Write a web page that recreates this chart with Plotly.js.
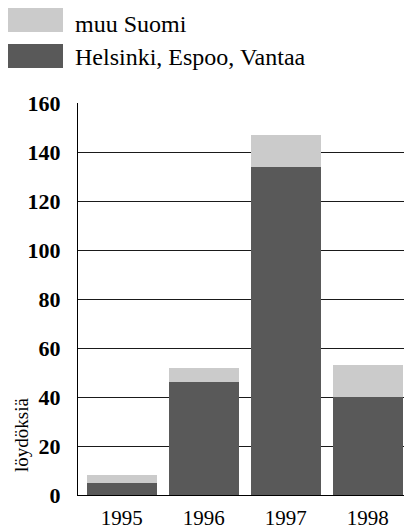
<!DOCTYPE html>
<html>
<head>
<meta charset="utf-8">
<script src="https://cdn.plot.ly/plotly-3.0.1.min.js"></script>
<style>html,body{margin:0;padding:0;background:#fff;}#chart{width:404px;height:530px;}</style>
</head>
<body>
<div id="chart"></div>
<script>
var years = ['1995', '1996', '1997', '1998'];
var helsinkiEspooVantaa = [5, 46, 134, 40];
var muuSuomi = [3, 6, 13, 13];
var yTicks = [0, 20, 40, 60, 80, 100, 120, 140, 160];
var seriesNames = ['Helsinki, Espoo, Vantaa', 'muu Suomi'];
var yTitle = 'löydöksiä';

var W = 404, H = 530;
var M = {l: 78, r: 0, t: 103, b: 35};
var pw = W - M.l - M.r, ph = H - M.t - M.b;
function px2x(px) { return (px - M.l) / pw; }
function px2y(py) { return (H - M.b - py) / ph; }

var serif = 'Liberation Serif';
var dark = '#595959', light = '#cbcbcb';

var traces = [
  {type: 'bar', x: years, y: helsinkiEspooVantaa, name: seriesNames[0],
   marker: {color: dark, line: {width: 0}}, showlegend: false, hoverinfo: 'none'},
  {type: 'bar', x: years, y: muuSuomi, name: seriesNames[1],
   marker: {color: light, line: {width: 0}}, showlegend: false, hoverinfo: 'none'}
];

var layout = {
  width: W, height: H,
  margin: M,
  paper_bgcolor: '#fff', plot_bgcolor: '#fff',
  barmode: 'stack',
  bargap: 0.146,
  showlegend: false,
  font: {family: serif, color: '#000'},
  xaxis: {
    type: 'category',
    range: [-0.533, 3.443],
    showgrid: false, zeroline: false,
    showline: true, linecolor: '#000', linewidth: 1,
    ticks: '', ticklabelstandoff: 4,
    tickfont: {family: serif, size: 21, color: '#000'},
    fixedrange: true
  },
  yaxis: {
    range: [0, 160],
    tickmode: 'array', tickvals: yTicks, ticktext: yTicks.map(String),
    showgrid: true, gridcolor: '#1a1a1a', gridwidth: 1,
    zeroline: false,
    showline: true, linecolor: '#000', linewidth: 1,
    ticks: '', ticklabelstandoff: 12,
    tickfont: {family: serif, size: 22, color: '#000', weight: 'bold'},
    fixedrange: true
  },
  shapes: [
    {type: 'rect', xref: 'paper', yref: 'paper', x0: px2x(8), x1: px2x(63), y0: px2y(32), y1: px2y(8),
     fillcolor: light, line: {width: 0}},
    {type: 'rect', xref: 'paper', yref: 'paper', x0: px2x(8), x1: px2x(63), y0: px2y(68), y1: px2y(44),
     fillcolor: dark, line: {width: 0}}
  ],
  annotations: [
    {text: seriesNames[1], xref: 'paper', yref: 'paper', x: px2x(73), y: px2y(24),
     xanchor: 'left', yanchor: 'middle', showarrow: false, font: {family: serif, size: 24, color: '#000'}},
    {text: seriesNames[0], xref: 'paper', yref: 'paper', x: px2x(73), y: px2y(57),
     xanchor: 'left', yanchor: 'middle', showarrow: false, font: {family: serif, size: 24, color: '#000'}},
    {text: yTitle, xref: 'paper', yref: 'paper', x: px2x(21), y: px2y(435),
     xanchor: 'center', yanchor: 'middle', textangle: -90, showarrow: false,
     font: {family: serif, size: 19, color: '#000'}}
  ]
};

Plotly.newPlot('chart', traces, layout, {staticPlot: true, displayModeBar: false});
</script>
</body>
</html>
